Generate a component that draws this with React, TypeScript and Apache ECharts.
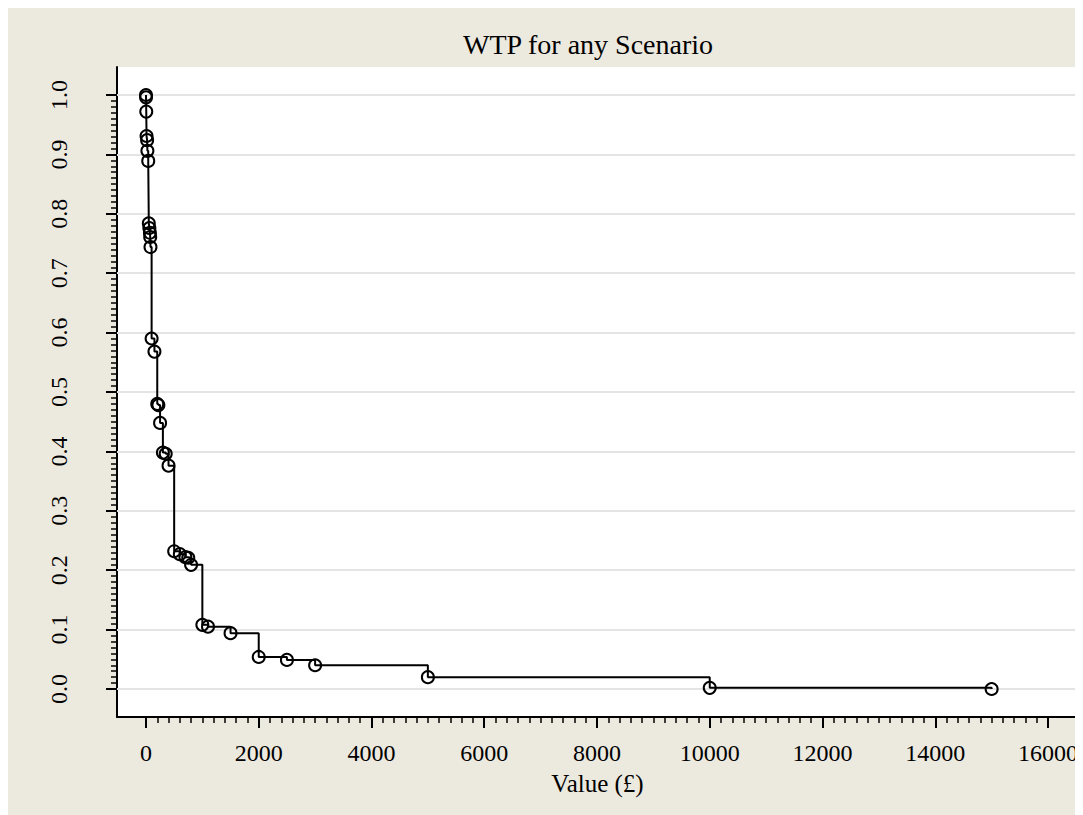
import React, { useEffect, useRef } from "react";
import * as echarts from "echarts";

const titleText = "WTP for any Scenario";
const xAxisTitle = "Value (£)";

// WTP values (£) and survival proportion at each
const wtpValues = [0, 1, 5, 10, 20, 25, 40, 50, 60, 70, 75, 80, 100, 150, 200, 220, 250, 300, 350, 400, 500, 600, 700, 750, 800, 1000, 1100, 1500, 2000, 2500, 3000, 5000, 10000, 15000];
const proportion = [1.0, 0.996, 0.972, 0.931, 0.924, 0.906, 0.889, 0.784, 0.776, 0.768, 0.761, 0.744, 0.59, 0.568, 0.48, 0.478, 0.448, 0.398, 0.396, 0.376, 0.232, 0.227, 0.222, 0.221, 0.209, 0.108, 0.105, 0.094, 0.054, 0.049, 0.04, 0.02, 0.002, 0.0];

const xMajorTicks = [0, 2000, 4000, 6000, 8000, 10000, 12000, 14000, 16000];
const yMajorTicks = [0, 0.1, 0.2, 0.3, 0.4, 0.5, 0.6, 0.7, 0.8, 0.9, 1.0];

const X_MIN = -514;
const X_MAX = 16532;
const Y_MIN = -0.0471;
const Y_MAX = 1.0471;

const xMinorTicks: number[] = [];
for (let i = 0; i <= 80; i++) xMinorTicks.push(i * 200);
const yMinorTicks: number[] = [];
for (let i = 0; i <= 100; i++) yMinorTicks.push(i / 100);

const FONT = "'Liberation Serif', 'DejaVu Serif', serif";

export default function App() {
  const ref = useRef<HTMLDivElement>(null);
  useEffect(() => {
    document.documentElement.style.overflow = "hidden";
    document.body.style.overflow = "hidden";
    if (!ref.current) return;
    const chart = echarts.init(ref.current, undefined, { renderer: "svg" });
    const data = wtpValues.map((x, i) => [x, proportion[i]]);
    chart.setOption({
      animation: false,
      backgroundColor: "#ECE9DF",
      graphic: [
        {
          type: "text",
          x: 580,
          y: 36,
          style: {
            text: titleText,
            textAlign: "center",
            textVerticalAlign: "middle",
            fontFamily: FONT,
            fontSize: 28,
            fill: "#000",
          },
        },
      ],
      grid: {
        left: 109,
        right: 5,
        top: 59,
        bottom: 98,
        show: true,
        backgroundColor: "#ffffff",
        borderWidth: 0,
      },
      xAxis: [
        {
          type: "value",
          min: X_MIN,
          max: X_MAX,
          position: "bottom",
          name: xAxisTitle,
          nameLocation: "middle",
          nameGap: 54,
          nameTextStyle: { fontFamily: FONT, fontSize: 25, color: "#000" },
          axisLine: { show: true, onZero: false, lineStyle: { color: "#000", width: 2 } },
          axisTick: { show: true, customValues: xMajorTicks, length: 11, lineStyle: { color: "#000", width: 2 } },
          axisLabel: {
            customValues: xMajorTicks,
            margin: 24,
            fontFamily: FONT,
            fontSize: 24,
            color: "#000",
            formatter: (v: number) => String(v),
          },
          splitLine: { show: false },
        },
        {
          type: "value",
          min: X_MIN,
          max: X_MAX,
          position: "bottom",
          offset: 0,
          axisLine: { show: false, onZero: false },
          axisTick: { show: true, customValues: xMinorTicks, length: 6, lineStyle: { color: "#000", width: 1.5 } },
          axisLabel: { show: false },
          splitLine: { show: false },
        },
      ],
      yAxis: [
        {
          type: "value",
          min: Y_MIN,
          max: Y_MAX,
          position: "left",
          axisLine: { show: true, onZero: false, lineStyle: { color: "#000", width: 2 } },
          axisTick: { show: true, customValues: yMajorTicks, length: 11, lineStyle: { color: "#000", width: 2 } },
          axisLabel: {
            customValues: yMajorTicks,
            rotate: 90,
            margin: 46,
            fontFamily: FONT,
            fontSize: 24,
            color: "#000",
            formatter: (v: number) => v.toFixed(1),
          },
          splitLine: { show: false },
        },
        {
          type: "value",
          min: Y_MIN,
          max: Y_MAX,
          position: "left",
          offset: 0,
          axisLine: { show: false, onZero: false },
          axisTick: { show: true, customValues: yMinorTicks, length: 6, lineStyle: { color: "#000", width: 1.5 } },
          axisLabel: { show: false },
          splitLine: { show: false },
        },
      ],
      series: [
        {
          type: "line",
          xAxisIndex: 0,
          yAxisIndex: 0,
          data: [],
          silent: true,
          z: 1,
          markLine: {
            z: 1,
            silent: true,
            symbol: ["none", "none"],
            label: { show: false },
            lineStyle: { color: "#e4e4e4", width: 2, type: "solid" },
            data: yMajorTicks.map((v) => ({ yAxis: v })),
          },
        },
        {
          type: "line",
          xAxisIndex: 0,
          yAxisIndex: 0,
          step: "end",
          data,
          z: 3,
          symbol: "circle",
          symbolSize: 12,
          showSymbol: true,
          lineStyle: { color: "#000", width: 2 },
          itemStyle: { color: "rgba(0,0,0,0)", borderColor: "#000", borderWidth: 2 },
        },
      ],
    });
    return () => chart.dispose();
  }, []);
  return <div ref={ref} style={{ width: 1075, height: 807 }} />;
}
